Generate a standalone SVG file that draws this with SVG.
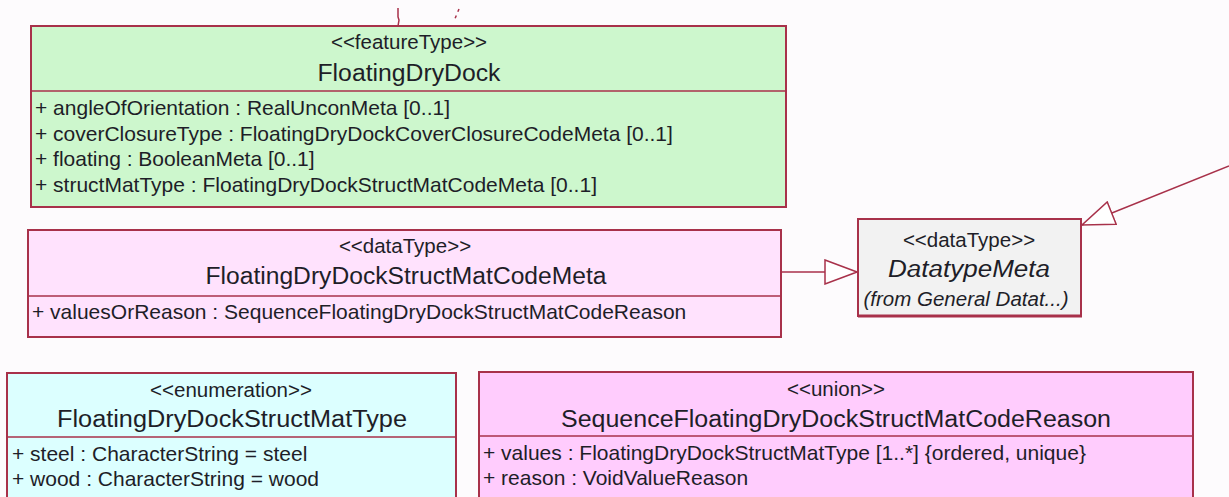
<svg xmlns="http://www.w3.org/2000/svg" width="1229" height="497" viewBox="0 0 1229 497">
  <defs>
    <style>
      .box { stroke: #a8314a; stroke-width: 2; }
      .div { stroke: #a8314a; stroke-width: 1.5; }
      .stereo { font-family: "Liberation Sans", Arial, sans-serif; font-size: 20.5px; fill: #1e1e28; text-anchor: middle; }
      .name { font-family: "Liberation Sans", Arial, sans-serif; font-size: 23px; fill: #1e1e28; text-anchor: middle; }
      .attr { font-family: "Liberation Sans", Arial, sans-serif; font-size: 21px; fill: #1e1e28; }
      .ital { font-style: italic; }
      .edge { stroke: #a8314a; stroke-width: 1.5; fill: none; }
    </style>
    <!-- hollow generalization arrowhead -->
    <marker id="gen" viewBox="0 0 34 26" refX="33" refY="13" markerWidth="34" markerHeight="26" markerUnits="userSpaceOnUse" orient="auto">
      <path d="M1,1 L33,13 L1,25 Z" fill="#ffffff" stroke="#a8314a" stroke-width="1.5"/>
    </marker>
  </defs>

  <rect width="1229" height="497" fill="#fdfbfd"/>

  <!-- connectors -->
  <g id="connectors">
    <path class="edge" d="M398,8 L398,17 L399,20 L398,26"/>
    <path class="edge" d="M459,9 L454,21" stroke-dasharray="3,4"/>
    <path class="edge" d="M781,272 L857,272" marker-end="url(#gen)"/>
    <path class="edge" d="M1229,166 L1082,225" marker-end="url(#gen)"/>
  </g>

  <!-- FloatingDryDock -->
  <g id="FloatingDryDock">
    <rect class="box" x="31" y="26" width="755" height="181" fill="#cdf7cd"/>
    <line class="div" x1="31" y1="91" x2="786" y2="91"/>
    <text class="stereo" x="409" y="49">&lt;&lt;featureType&gt;&gt;</text>
    <text class="name" x="409" y="81" textLength="183" lengthAdjust="spacingAndGlyphs">FloatingDryDock</text>
    <text class="attr" x="35" y="115">+ angleOfOrientation : RealUnconMeta [0..1]</text>
    <text class="attr" x="35" y="141">+ coverClosureType : FloatingDryDockCoverClosureCodeMeta [0..1]</text>
    <text class="attr" x="35" y="166">+ floating : BooleanMeta [0..1]</text>
    <text class="attr" x="35" y="192">+ structMatType : FloatingDryDockStructMatCodeMeta [0..1]</text>
  </g>

  <!-- FloatingDryDockStructMatCodeMeta -->
  <g id="FloatingDryDockStructMatCodeMeta">
    <rect class="box" x="28" y="230" width="753" height="107" fill="#ffe2fd"/>
    <line class="div" x1="28" y1="296" x2="781" y2="296"/>
    <text class="stereo" x="405" y="253">&lt;&lt;dataType&gt;&gt;</text>
    <text class="name" x="406" y="284" textLength="401" lengthAdjust="spacingAndGlyphs">FloatingDryDockStructMatCodeMeta</text>
    <text class="attr" x="32" y="319">+ valuesOrReason : SequenceFloatingDryDockStructMatCodeReason</text>
  </g>

  <!-- DatatypeMeta -->
  <g id="DatatypeMeta">
    <rect class="box" x="858" y="219" width="223" height="97" fill="#f2f2f2"/>
    <line x1="858" y1="316" x2="1082" y2="316" stroke="#a8314a" stroke-width="3"/>
    <text class="stereo" x="969" y="247">&lt;&lt;dataType&gt;&gt;</text>
    <text class="name ital" x="969" y="277" textLength="162" lengthAdjust="spacingAndGlyphs">DatatypeMeta</text>
    <text class="stereo ital" x="966" y="306">(from General Datat...)</text>
  </g>

  <!-- FloatingDryDockStructMatType -->
  <g id="FloatingDryDockStructMatType">
    <rect class="box" x="7" y="373" width="449" height="140" fill="#dcffff"/>
    <line class="div" x1="7" y1="437" x2="456" y2="437"/>
    <text class="stereo" x="231" y="397">&lt;&lt;enumeration&gt;&gt;</text>
    <text class="name" x="232" y="427" textLength="350" lengthAdjust="spacingAndGlyphs">FloatingDryDockStructMatType</text>
    <text class="attr" x="12" y="461">+ steel : CharacterString = steel</text>
    <text class="attr" x="12" y="486">+ wood : CharacterString = wood</text>
  </g>

  <!-- SequenceFloatingDryDockStructMatCodeReason -->
  <g id="SequenceFloatingDryDockStructMatCodeReason">
    <rect class="box" x="479" y="372" width="714" height="141" fill="#ffccfd"/>
    <line class="div" x1="479" y1="436" x2="1193" y2="436"/>
    <text class="stereo" x="836" y="396">&lt;&lt;union&gt;&gt;</text>
    <text class="name" x="836" y="427" textLength="550" lengthAdjust="spacingAndGlyphs">SequenceFloatingDryDockStructMatCodeReason</text>
    <text class="attr" x="483" y="460">+ values : FloatingDryDockStructMatType [1..*] {ordered, unique}</text>
    <text class="attr" x="483" y="485">+ reason : VoidValueReason</text>
  </g>
</svg>
